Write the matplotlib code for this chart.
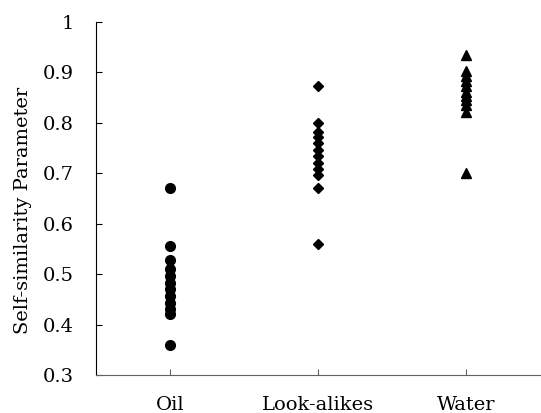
import numpy as np
import matplotlib
matplotlib.use('Agg')
from matplotlib import pyplot as plt

plt.rcParams['font.family'] = ['DejaVu Serif']

categories = ['Oil', 'Look-alikes', 'Water']
oil = [0.67, 0.556, 0.527, 0.511, 0.497, 0.483, 0.471, 0.457, 0.443, 0.431, 0.42, 0.36]
look_alikes = [0.872, 0.799, 0.781, 0.771, 0.759, 0.747, 0.735, 0.721, 0.709, 0.696, 0.67, 0.56]
water = [0.934, 0.902, 0.892, 0.882, 0.872, 0.862, 0.854, 0.845, 0.835, 0.822, 0.70]

fig = plt.figure(figsize=(5.41, 4.13), dpi=100)
ax = fig.add_axes([0.177, 0.092, 0.821, 0.855])

ax.plot(np.full(len(oil), 1), oil, 'o', color='black', markersize=7)
ax.plot(np.full(len(look_alikes), 2), look_alikes, 'D', color='black', markersize=5.5)
ax.plot(np.full(len(water), 3), water, '^', color='black', markersize=6.5)

ax.set_xlim(0.5, 3.5)
ax.set_ylim(0.3, 1.0)
ax.set_xticks([1, 2, 3])
ax.set_xticklabels(categories)
ax.set_yticks(np.arange(0.3, 1.01, 0.1))
ax.set_yticklabels(['0.3', '0.4', '0.5', '0.6', '0.7', '0.8', '0.9', '1'])
ax.set_ylabel('Self-similarity Parameter', fontsize=14)
ax.yaxis.set_label_coords(-0.144, 0.465)
ax.tick_params(axis='both', direction='in', labelsize=14, length=4)
ax.tick_params(axis='x', pad=15, colors='#606060', labelcolor='black')
ax.tick_params(axis='y', pad=16)

ax.spines['top'].set_visible(False)
ax.spines['right'].set_visible(False)
ax.spines['bottom'].set_color('#606060')

plt.savefig('out.png', dpi=100)
